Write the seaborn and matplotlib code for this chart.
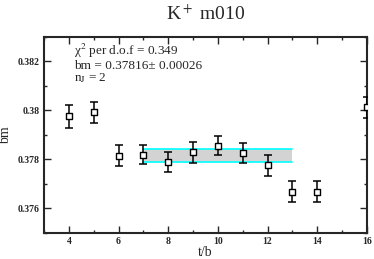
import seaborn as sns
import matplotlib
matplotlib.use("Agg")
import matplotlib.pyplot as plt
import pandas as pd

# dados
tb = [4, 5, 6, 7, 8, 9, 10, 11, 12, 13, 14, 16]
bm = [0.37976, 0.37992, 0.37815, 0.37819, 0.37788, 0.37828, 0.37856,
      0.37827, 0.37775, 0.37667, 0.37668, 0.38012]
erro = [0.00047, 0.00043, 0.00042, 0.00040, 0.00041, 0.00041, 0.00040,
        0.00040, 0.00042, 0.00043, 0.00043, 0.00044]

# ajuste (banda)
ajuste_t = [7, 13]
ajuste_bm = 0.37816
ajuste_erro = 0.00026

Dados = pd.DataFrame({'t/b': tb, 'bm': bm, 'erro': erro})

sns.set_style("ticks")
plt.rcParams['font.family'] = ['Liberation Serif', 'DejaVu Serif']
plt.rcParams['mathtext.fontset'] = 'stix'
plt.rcParams['xtick.direction'] = 'in'
plt.rcParams['ytick.direction'] = 'in'

fig = plt.figure(figsize=(3.74, 2.59), dpi=100)
ax = fig.add_axes([0.1176, 0.1015, 0.8634, 0.7555])

# banda do ajuste
ax.fill_between(ajuste_t, ajuste_bm - ajuste_erro, ajuste_bm + ajuste_erro,
                color='#d3d3d3', lw=0, zorder=1)
ax.plot(ajuste_t, [ajuste_bm + ajuste_erro] * 2, color='cyan', lw=1.2, zorder=2)
ax.plot(ajuste_t, [ajuste_bm - ajuste_erro] * 2, color='cyan', lw=1.2, zorder=2)

ax.errorbar(Dados['t/b'], Dados['bm'], yerr=Dados['erro'], fmt='none',
            ecolor='black', elinewidth=1.1, capsize=3, capthick=1.1, zorder=3)
sns.scatterplot(data=Dados, x='t/b', y='bm', marker='s', s=16, color='white',
                edgecolor='black', linewidth=1.0, zorder=4, ax=ax)

ax.set_xlim(3, 16)
ax.set_ylim(0.375, 0.383)
ax.set_xticks([4, 6, 8, 10, 12, 14, 16])
ax.set_xticks(range(3, 17), minor=True)
ax.set_yticks([0.376, 0.378, 0.38, 0.382])
ax.set_yticklabels(['0.376', '0.378', '0.38', '0.382'])
ax.set_yticks([0.375, 0.377, 0.379, 0.381, 0.383], minor=True)
ax.tick_params(which='major', length=5, width=1, labelsize=7, pad=3,
               right=True, top=True)
ax.tick_params(which='minor', length=2.5, width=1, right=True, top=True)
for lbl in ax.get_xticklabels() + ax.get_yticklabels():
    lbl.set_fontweight('bold')
for sp in ax.spines.values():
    sp.set_linewidth(1.5)

ax.set_xlabel('t/b', fontsize=10, labelpad=0)
ax.set_ylabel('bm', fontsize=10, labelpad=4)
ax.set_title('K$^+$ m010', fontsize=14, pad=12.5)

# textos do ajuste
ax.text(0.093, 0.908, 'χ$^2$ per d.o.f = 0.349', transform=ax.transAxes,
        fontsize=9.5, va='baseline')
ax.text(0.093, 0.839, 'bm = 0.37816± 0.00026', transform=ax.transAxes,
        fontsize=9.5, va='baseline')
ax.text(0.093, 0.775, 'n$_\\mathrm{J}$ = 2', transform=ax.transAxes,
        fontsize=9.5, va='baseline')

fig.savefig('out.png', dpi=100)
